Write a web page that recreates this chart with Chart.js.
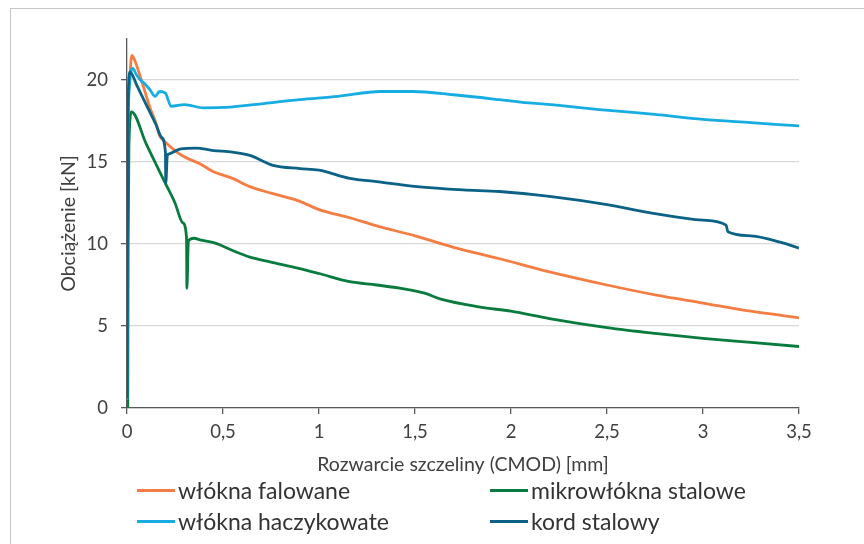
<!DOCTYPE html>
<html lang="pl">
<head>
<meta charset="utf-8">
<title>Obciążenie – CMOD</title>
<script src="https://cdn.jsdelivr.net/npm/chart.js@4/dist/chart.umd.min.js"></script>
<style>
  html, body { margin: 0; padding: 0; background: #fff; }
  #wrap { position: relative; width: 864px; height: 544px; overflow: hidden; font-family: Lato, "Open Sans", sans-serif; }
  #frame { position: absolute; left: 10px; top: 8px; width: 900px; height: 600px; border: 1.5px solid #c6c6c6; }
  #chart { position: absolute; left: 0; top: 0; }
  .item { position: absolute; display: flex; align-items: center; font-size: 23px; color: #333; white-space: nowrap; transform: translateY(-50%); }
  .swatch { display: inline-block; width: 38px; height: 3px; margin-right: 3px; }
</style>
</head>
<body>
<div id="wrap">
  <div id="frame"></div>
  <canvas id="chart" width="864" height="544"></canvas>
  <div id="legend"></div>
</div>
<script>
// ---------- Data (CMOD in mm, load in kN) ----------
const seriesNames = ['włókna falowane', 'mikrowłókna stalowe', 'włókna haczykowate', 'kord stalowy'];
const seriesColors = ['#F47D44', '#0A7B3E', '#17ACE2', '#0B6286'];

const falowaneX = [0, 0.003, 0.01, 0.025, 0.04, 0.08, 0.12, 0.15, 0.17, 0.2, 0.25, 0.3, 0.38, 0.45, 0.5, 0.55, 0.64, 0.75, 0.9, 1.0, 1.16, 1.3, 1.5, 1.7, 1.94, 2.2, 2.5, 2.75, 3.0, 3.25, 3.5];
const falowaneY = [0.5, 17, 19.5, 21.5, 21.2, 19.8, 18.3, 17.4, 16.6, 16.2, 15.7, 15.3, 14.9, 14.4, 14.2, 14.0, 13.5, 13.1, 12.6, 12.1, 11.6, 11.1, 10.5, 9.8, 9.1, 8.3, 7.5, 6.9, 6.4, 5.9, 5.5];

const mikroX = [0.004, 0.006, 0.01, 0.024, 0.1, 0.2, 0.25, 0.29, 0.31, 0.312, 0.32, 0.35, 0.38, 0.46, 0.55, 0.64, 0.75, 0.9, 1.0, 1.16, 1.3, 1.45, 1.55, 1.63, 1.84, 2.0, 2.2, 2.5, 2.75, 3.0, 3.25, 3.5];
const mikroY = [0, 10, 16, 18.05, 16.1, 13.7, 12.5, 11.3, 10.4, 7.3, 10.2, 10.35, 10.25, 10.05, 9.6, 9.2, 8.9, 8.5, 8.2, 7.7, 7.5, 7.25, 7.0, 6.65, 6.15, 5.9, 5.45, 4.9, 4.55, 4.25, 4.0, 3.75];

const haczykX = [0, 0.004, 0.012, 0.03, 0.05, 0.07, 0.09, 0.12, 0.146, 0.17, 0.2, 0.23, 0.3, 0.4, 0.54, 0.7, 0.9, 1.1, 1.32, 1.49, 1.7, 1.94, 2.05, 2.25, 2.46, 2.75, 3.0, 3.25, 3.5];
const haczykY = [0.5, 15, 19.5, 20.7, 20.3, 20.0, 19.8, 19.4, 19.0, 19.3, 19.2, 18.4, 18.5, 18.3, 18.35, 18.55, 18.8, 19.0, 19.3, 19.3, 19.1, 18.8, 18.65, 18.45, 18.2, 17.9, 17.6, 17.4, 17.2];

const kordX = [0, 0.005, 0.016, 0.05, 0.1, 0.15, 0.18, 0.2, 0.202, 0.21, 0.22, 0.28, 0.36, 0.45, 0.55, 0.64, 0.76, 0.9, 1.0, 1.16, 1.3, 1.51, 1.75, 1.94, 2.2, 2.5, 2.75, 3.0, 3.12, 3.13, 3.25, 3.42, 3.5];
const kordY = [0.6, 18, 20.5, 19.7, 18.5, 17.3, 16.5, 15.6, 13.7, 15.4, 15.5, 15.8, 15.85, 15.7, 15.6, 15.4, 14.8, 14.6, 14.5, 14.0, 13.8, 13.5, 13.3, 13.2, 12.9, 12.4, 11.85, 11.45, 11.15, 10.75, 10.5, 10.05, 9.75];

const xAxisTitle = 'Rozwarcie szczeliny (CMOD) [mm]';
const yAxisTitle = 'Obciążenie [kN]';

// legend slots (2 x 2 grid, row-major like the original)
const legendPos = [[137, 490], [490, 490], [137, 521], [490, 521]];

// ---------- Build datasets ----------
const seriesX = [falowaneX, mikroX, haczykX, kordX];
const seriesY = [falowaneY, mikroY, haczykY, kordY];

const datasets = seriesNames.map((name, i) => ({
  label: name,
  data: seriesX[i].map((x, j) => ({ x: x, y: seriesY[i][j] })),
  borderColor: seriesColors[i],
  backgroundColor: seriesColors[i],
  borderWidth: 2.8,
  pointRadius: 0,
  cubicInterpolationMode: 'monotone',
  fill: false,
  order: 4 - i
}));

const tickFont = { family: 'Lato', size: 18.5 };
const titleFont = { family: 'Lato', size: 19.5 };
const axisDark = '#595959';

new Chart(document.getElementById('chart').getContext('2d'), {
  type: 'line',
  data: { datasets: datasets },
  options: {
    responsive: false,
    animation: false,
    devicePixelRatio: 1,
    layout: { padding: { left: 55, right: 65, top: 39, bottom: 66 } },
    plugins: { legend: { display: false }, tooltip: { enabled: false } },
    scales: {
      x: {
        type: 'linear',
        min: 0,
        max: 3.5,
        ticks: {
          stepSize: 0.5,
          font: tickFont,
          color: '#404040',
          padding: 7,
          maxRotation: 0,
          callback: v => (Math.round(v * 10) / 10).toString().replace('.', ',')
        },
        grid: { drawOnChartArea: false, drawTicks: true, tickLength: 6, tickColor: axisDark, lineWidth: 1.3 },
        border: { color: axisDark, width: 1.3 },
        title: { display: true, text: xAxisTitle, font: titleFont, color: '#404040', padding: { top: 0, bottom: 2 } },
        afterFit: s => { s.height = 70; }
      },
      y: {
        min: 0,
        max: 22.5,
        ticks: { stepSize: 5, includeBounds: false, font: tickFont, color: '#404040', padding: 13 },
        grid: { color: '#d9d9d9', lineWidth: 1.3, tickLength: 6, tickColor: axisDark },
        border: { color: axisDark, width: 1.3 },
        title: { display: true, text: yAxisTitle, font: titleFont, color: '#404040', padding: { top: 2, bottom: 0 } },
        afterFit: s => { s.width = 72; }
      }
    }
  }
});

// ---------- HTML legend ----------
const legendEl = document.getElementById('legend');
seriesNames.forEach((name, i) => {
  const item = document.createElement('div');
  item.className = 'item';
  item.style.left = legendPos[i][0] + 'px';
  item.style.top = legendPos[i][1] + 'px';
  item.innerHTML = `<span class="swatch" style="background:${seriesColors[i]}"></span>${name}`;
  legendEl.appendChild(item);
});
</script>
</body>
</html>
